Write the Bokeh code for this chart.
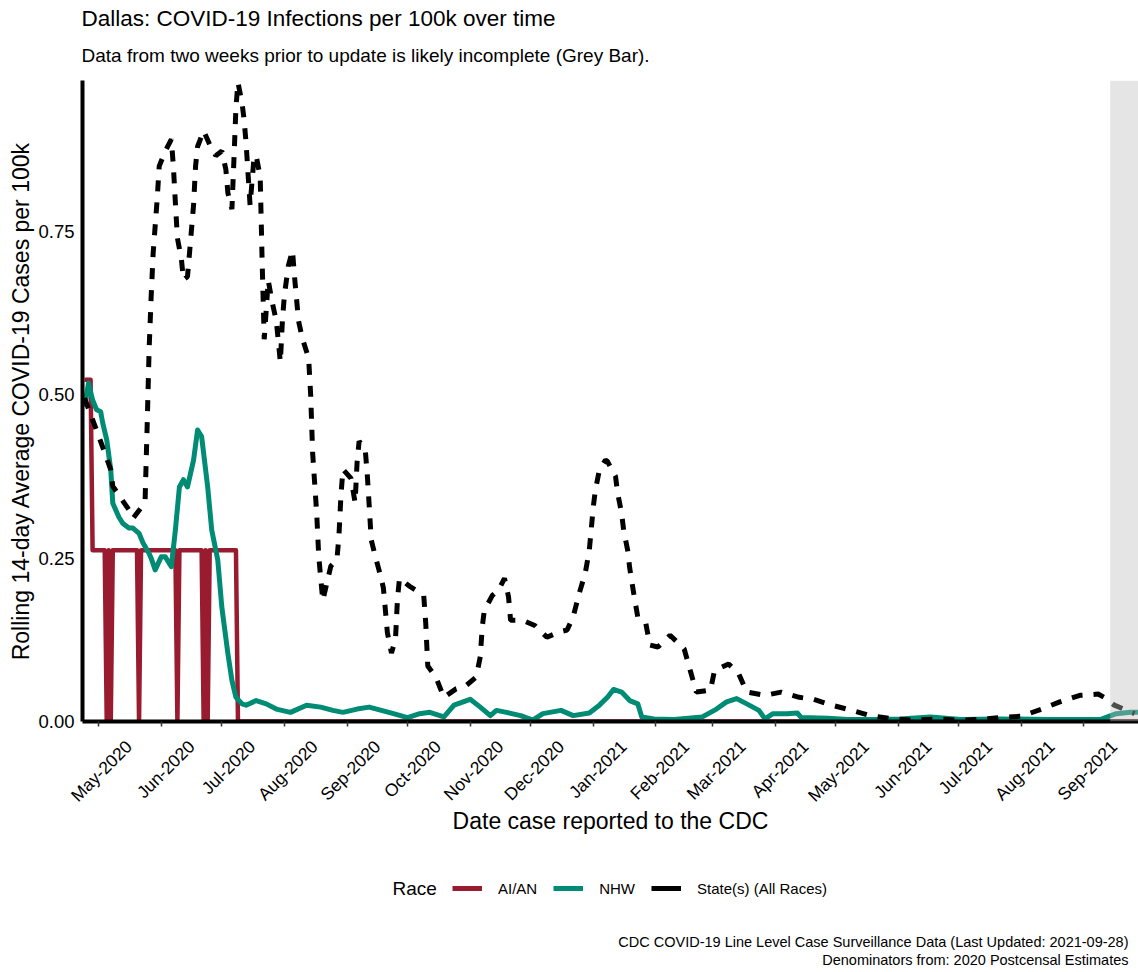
import math
import pandas as pd
from bokeh.plotting import figure
from bokeh.layouts import column
from bokeh.models import (Range1d, DatetimeTickFormatter, FixedTicker,
                          PrintfTickFormatter, BoxAnnotation, Label, Legend, LegendItem,
                          ColumnDataSource)
from bokeh.embed import file_html
from bokeh.resources import INLINE

FONT = "Liberation Sans"

# ---------------- data ----------------
aian_dates = ["2020-04-24", "2020-04-27", "2020-04-28", "2020-05-04", "2020-05-05", "2020-05-06",
              "2020-05-07", "2020-05-08", "2020-05-20", "2020-05-21", "2020-05-22", "2020-06-08",
              "2020-06-09", "2020-06-10", "2020-06-21", "2020-06-22", "2020-06-23", "2020-06-24",
              "2020-06-25", "2020-07-08", "2020-07-09", "2021-09-28"]
aian_vals = [0.523, 0.523, 0.262, 0.262, 0.0, 0.262,
             0.0, 0.262, 0.262, 0.0, 0.262, 0.262,
             0.0, 0.262, 0.262, 0.0, 0.262, 0.0,
             0.262, 0.262, 0.0, 0.0]

nhw_dates = ["2020-04-24", "2020-04-26", "2020-04-28", "2020-04-30", "2020-05-02", "2020-05-03",
             "2020-05-05", "2020-05-07", "2020-05-08", "2020-05-11", "2020-05-13", "2020-05-16",
             "2020-05-18", "2020-05-21", "2020-05-23", "2020-05-26", "2020-05-27", "2020-05-29",
             "2020-06-01", "2020-06-03", "2020-06-06", "2020-06-08", "2020-06-10", "2020-06-12",
             "2020-06-14", "2020-06-17", "2020-06-19", "2020-06-21", "2020-06-24", "2020-06-26",
             "2020-06-29", "2020-07-01", "2020-07-04", "2020-07-06", "2020-07-08", "2020-07-11",
             "2020-07-13", "2020-07-18", "2020-07-23", "2020-07-28", "2020-08-04", "2020-08-12",
             "2020-08-19", "2020-08-25", "2020-08-30", "2020-09-06", "2020-09-12", "2020-09-24",
             "2020-10-01", "2020-10-07", "2020-10-12", "2020-10-19", "2020-10-24", "2020-11-01",
             "2020-11-06", "2020-11-11", "2020-11-14", "2020-11-19", "2020-11-26", "2020-12-02",
             "2020-12-07", "2020-12-16", "2020-12-22", "2020-12-30", "2021-01-04", "2021-01-08",
             "2021-01-11", "2021-01-15", "2021-01-19", "2021-01-23", "2021-01-25", "2021-01-31",
             "2021-02-10", "2021-02-24", "2021-03-03", "2021-03-08", "2021-03-13", "2021-03-18",
             "2021-03-24", "2021-03-27", "2021-03-31", "2021-04-07", "2021-04-12", "2021-04-14",
             "2021-04-27", "2021-05-07", "2021-05-20", "2021-06-02", "2021-06-17", "2021-07-02",
             "2021-07-21", "2021-08-15", "2021-09-09", "2021-09-17", "2021-09-24", "2021-09-28"]
nhw_vals = [0.482, 0.518, 0.492, 0.477, 0.474, 0.457,
            0.431, 0.385, 0.334, 0.313, 0.303, 0.296,
            0.296, 0.288, 0.273, 0.257, 0.250, 0.232,
            0.252, 0.252, 0.237, 0.293, 0.359, 0.370,
            0.359, 0.400, 0.446, 0.436, 0.359, 0.293,
            0.247, 0.175, 0.104, 0.063, 0.037, 0.027,
            0.025, 0.032, 0.027, 0.019, 0.014, 0.025,
            0.022, 0.017, 0.014, 0.019, 0.022, 0.012,
            0.006, 0.012, 0.014, 0.007, 0.025, 0.034,
            0.022, 0.009, 0.017, 0.014, 0.009, 0.002,
            0.012, 0.017, 0.009, 0.013, 0.025, 0.037,
            0.049, 0.045, 0.032, 0.027, 0.007, 0.004,
            0.003, 0.007, 0.019, 0.030, 0.035, 0.027,
            0.017, 0.004, 0.012, 0.012, 0.013, 0.006,
            0.005, 0.003, 0.003, 0.004, 0.007, 0.003,
            0.004, 0.003, 0.003, 0.012, 0.014, 0.014]

state_dates = ["2020-04-24", "2020-04-28", "2020-05-03", "2020-05-07", "2020-05-08", "2020-05-12",
               "2020-05-16", "2020-05-18", "2020-05-23", "2020-05-24", "2020-05-25", "2020-05-26",
               "2020-05-27", "2020-05-28", "2020-05-30", "2020-05-31", "2020-06-03", "2020-06-06",
               "2020-06-07", "2020-06-08", "2020-06-09", "2020-06-11", "2020-06-12", "2020-06-14",
               "2020-06-15", "2020-06-17", "2020-06-18", "2020-06-19", "2020-06-22", "2020-06-25",
               "2020-06-28", "2020-07-01", "2020-07-03", "2020-07-04", "2020-07-06", "2020-07-07",
               "2020-07-08", "2020-07-09", "2020-07-11", "2020-07-12", "2020-07-13", "2020-07-15",
               "2020-07-17", "2020-07-18", "2020-07-20", "2020-07-21", "2020-07-22", "2020-07-24",
               "2020-07-26", "2020-07-28", "2020-07-30", "2020-07-31", "2020-08-01", "2020-08-03",
               "2020-08-05", "2020-08-06", "2020-08-07", "2020-08-08", "2020-08-10", "2020-08-13",
               "2020-08-14", "2020-08-15", "2020-08-17", "2020-08-18", "2020-08-20", "2020-08-24",
               "2020-08-27", "2020-08-28", "2020-08-29", "2020-08-30", "2020-09-03", "2020-09-05",
               "2020-09-06", "2020-09-07", "2020-09-10", "2020-09-11", "2020-09-12", "2020-09-13",
               "2020-09-15", "2020-09-17", "2020-09-19", "2020-09-20", "2020-09-21", "2020-09-23",
               "2020-09-25", "2020-09-26", "2020-09-27", "2020-10-02", "2020-10-09", "2020-10-10",
               "2020-10-11", "2020-10-15", "2020-10-19", "2020-10-25", "2020-10-30", "2020-11-04",
               "2020-11-06", "2020-11-07", "2020-11-08", "2020-11-12", "2020-11-15", "2020-11-18",
               "2020-11-20", "2020-11-21", "2020-11-27", "2020-12-03", "2020-12-09", "2020-12-15",
               "2020-12-19", "2020-12-22", "2020-12-25", "2020-12-28", "2020-12-30", "2021-01-01",
               "2021-01-02", "2021-01-04", "2021-01-07", "2021-01-08", "2021-01-12", "2021-01-13",
               "2021-01-15", "2021-01-16", "2021-01-18", "2021-01-19", "2021-01-21", "2021-01-23",
               "2021-01-27", "2021-01-29", "2021-02-02", "2021-02-08", "2021-02-15", "2021-02-18",
               "2021-02-21", "2021-02-28", "2021-03-02", "2021-03-09", "2021-03-14", "2021-03-18",
               "2021-03-27", "2021-04-04", "2021-04-13", "2021-04-20", "2021-04-29", "2021-05-09",
               "2021-05-18", "2021-05-30", "2021-06-09", "2021-06-20", "2021-06-30", "2021-07-11",
               "2021-07-21", "2021-08-01", "2021-08-11", "2021-08-20", "2021-08-30", "2021-09-08",
               "2021-09-11", "2021-09-16", "2021-09-26"]
state_vals = [0.495, 0.462, 0.420, 0.385, 0.360, 0.342,
              0.324, 0.311, 0.331, 0.338, 0.450, 0.570,
              0.650, 0.717, 0.800, 0.850, 0.873, 0.891,
              0.850, 0.794, 0.740, 0.707, 0.676, 0.681,
              0.717, 0.790, 0.850, 0.880, 0.904, 0.883,
              0.866, 0.873, 0.845, 0.809, 0.784, 0.860,
              0.940, 0.978, 0.947, 0.922, 0.886, 0.790,
              0.865, 0.866, 0.834, 0.700, 0.585, 0.675,
              0.641, 0.613, 0.550, 0.613, 0.653, 0.698,
              0.721, 0.681, 0.647, 0.613, 0.585, 0.556,
              0.500, 0.410, 0.318, 0.253, 0.185, 0.238,
              0.247, 0.284, 0.346, 0.386, 0.372, 0.335,
              0.397, 0.429, 0.417, 0.380, 0.330, 0.278,
              0.253, 0.230, 0.205, 0.171, 0.136, 0.105,
              0.125, 0.188, 0.219, 0.207, 0.193, 0.150,
              0.085, 0.068, 0.037, 0.050, 0.055, 0.068,
              0.099, 0.145, 0.170, 0.193, 0.201, 0.219,
              0.191, 0.155, 0.155, 0.147, 0.129, 0.137,
              0.140, 0.160, 0.196, 0.227, 0.262, 0.329,
              0.354, 0.385, 0.400, 0.398, 0.375, 0.350,
              0.319, 0.293, 0.262, 0.235, 0.196, 0.160,
              0.150, 0.117, 0.114, 0.132, 0.111, 0.078,
              0.045, 0.048, 0.078, 0.088, 0.073, 0.045,
              0.040, 0.045, 0.037, 0.034, 0.025, 0.017,
              0.009, 0.004, 0.002, 0.004, 0.002, 0.003,
              0.006, 0.008, 0.019, 0.030, 0.040, 0.042,
              0.037, 0.025, 0.012]

x_start = "2020-04-23"
update_date = "2021-09-28"
incomplete_days = 14
month_ticks = pd.date_range("2020-05-01", "2021-09-01", freq="MS")
y_max = 0.981
y_ticks = [0.0, 0.25, 0.50, 0.75]

title_text = "Dallas: COVID-19 Infections per 100k over time"
subtitle_text = "Data from two weeks prior to update is likely incomplete (Grey Bar)."
x_label = "Date case reported to the CDC"
y_label = "Rolling 14-day Average COVID-19 Cases per 100k"
caption_lines = ["CDC COVID-19 Line Level Case Surveillance Data (Last Updated: 2021-09-28)",
                 "Denominators from: 2020 Postcensal Estimates"]
legend_title = "Race"
series_labels = ["AI/AN", "NHW", "State(s) (All Races)"]

RED = "#991B30"
TEAL = "#008B74"
W = 1138
LEFT = 82   # left border of the plot area (all three stacked figures share it)


def ms(ts):
    return pd.Timestamp(ts).timestamp() * 1000


def blank_fig(h):
    f = figure(width=W, height=h, x_range=Range1d(0, 1), y_range=Range1d(0, 1),
               x_axis_type=None, y_axis_type=None, output_backend="svg",
               toolbar_location=None, min_border=0, min_border_left=LEFT)
    f.outline_line_color = None
    f.grid.visible = False
    f.background_fill_color = "white"
    f.border_fill_color = "white"
    return f


# ---------------- header ----------------
top = blank_fig(80)
top.add_layout(Label(x=-1, y=62, x_units="screen", y_units="screen", text=title_text,
                     text_font=FONT, text_font_size="22.5px", text_baseline="middle",
                     text_align="left", text_color="black"))
top.add_layout(Label(x=-1, y=25, x_units="screen", y_units="screen", text=subtitle_text,
                     text_font=FONT, text_font_size="19px", text_baseline="middle",
                     text_align="left", text_color="black"))

# ---------------- main plot ----------------
x0 = pd.Timestamp(x_start)
x1 = pd.Timestamp(update_date)
p = figure(width=W, height=770, x_axis_type="datetime",
           x_range=Range1d(x0, x1), y_range=Range1d(0, y_max),
           output_backend="svg", toolbar_location=None,
           min_border_left=LEFT, min_border_right=0, min_border_top=0, min_border_bottom=129)
p.outline_line_color = None
p.xgrid.grid_line_color = None
p.ygrid.grid_line_color = None
p.background_fill_color = "white"
p.border_fill_color = "white"

src_a = ColumnDataSource(dict(x=pd.to_datetime(aian_dates), y=aian_vals))
src_n = ColumnDataSource(dict(x=pd.to_datetime(nhw_dates), y=nhw_vals))
src_s = ColumnDataSource(dict(x=pd.to_datetime(state_dates), y=state_vals))

p.line("x", "y", source=src_a, line_color=RED, line_width=4.5, line_join="round")
p.line("x", "y", source=src_n, line_color=TEAL, line_width=5, line_join="round")
p.line("x", "y", source=src_s, line_color="black", line_width=5, line_dash="11 11")

p.add_layout(BoxAnnotation(left=ms(x1 - pd.Timedelta(days=incomplete_days)), right=ms(x1),
                           fill_color="#BEBEBE", fill_alpha=0.4, line_color=None))

# x axis: tick marks at month starts (minor), labels centred under them (major, offset)
label_pos = [ms(t + pd.Timedelta(days=15)) for t in month_ticks]
xa = p.xaxis[0]
xa.ticker = FixedTicker(ticks=label_pos, minor_ticks=[ms(t) for t in month_ticks])
xa.formatter = DatetimeTickFormatter(months="%b-%Y", days="%b-%Y", years="%b-%Y",
                                     hours="%b-%Y", minutes="%b-%Y")
xa.major_label_orientation = math.pi / 4
xa.major_label_text_font = FONT
xa.major_label_text_font_size = "17.5px"
xa.major_label_text_color = "black"
xa.axis_line_width = 4
xa.axis_line_color = "black"
xa.major_tick_line_color = None
xa.major_tick_out = 0
xa.major_tick_in = 0
xa.minor_tick_line_color = "#333333"
xa.minor_tick_line_width = 1.5
xa.minor_tick_out = 5
xa.minor_tick_in = 0
xa.major_label_standoff = 17
xa.axis_label = x_label
xa.axis_label_text_font = FONT
xa.axis_label_text_font_size = "23px"
xa.axis_label_text_font_style = "normal"
xa.axis_label_text_color = "black"
xa.axis_label_standoff = -8

ya = p.yaxis[0]
ya.ticker = FixedTicker(ticks=y_ticks)
ya.formatter = PrintfTickFormatter(format="%.2f")
ya.major_label_text_font = FONT
ya.major_label_text_font_size = "18.5px"
ya.major_label_text_color = "black"
ya.axis_line_width = 4
ya.axis_line_color = "black"
ya.minor_tick_line_color = None
ya.major_tick_line_color = None
ya.major_tick_out = 0
ya.major_tick_in = 0
ya.major_label_standoff = 8
ya.axis_label = y_label
ya.axis_label_text_font = FONT
ya.axis_label_text_font_size = "23px"
ya.axis_label_text_font_style = "normal"
ya.axis_label_text_color = "black"
ya.axis_label_standoff = 1

# ---------------- legend + caption ----------------
bottom = blank_fig(122)
nan = float("nan")
k_a = bottom.line(x=[nan], y=[nan], line_color=RED, line_width=5)
k_n = bottom.line(x=[nan], y=[nan], line_color=TEAL, line_width=5)
k_s = bottom.line(x=[nan], y=[nan], line_color="black", line_width=5)
legend = Legend(items=[LegendItem(label=series_labels[0], renderers=[k_a]),
                       LegendItem(label=series_labels[1], renderers=[k_n]),
                       LegendItem(label=series_labels[2], renderers=[k_s])],
                orientation="horizontal", location=(370, 74))
legend.label_text_font = FONT
legend.label_text_font_size = "15px"
legend.label_text_color = "black"
legend.glyph_width = 30
legend.glyph_height = 20
legend.label_height = 20
legend.label_standoff = 16
legend.spacing = 16
legend.padding = 0
legend.margin = 0
legend.border_line_color = None
legend.background_fill_alpha = 0
bottom.add_layout(legend)
bottom.add_layout(Label(x=310, y=84, x_units="screen", y_units="screen", text=legend_title,
                        text_font=FONT, text_font_size="19px", text_baseline="middle",
                        text_align="left", text_color="black"))

for i, line in enumerate(caption_lines):
    bottom.add_layout(Label(x=1046, y=31 - 18 * i, x_units="screen", y_units="screen", text=line,
                            text_font=FONT, text_font_size="14.5px", text_baseline="middle",
                            text_align="right", text_color="black"))

layout = column(top, p, bottom, spacing=0)
open("out.html", "w").write(file_html(layout, INLINE))
